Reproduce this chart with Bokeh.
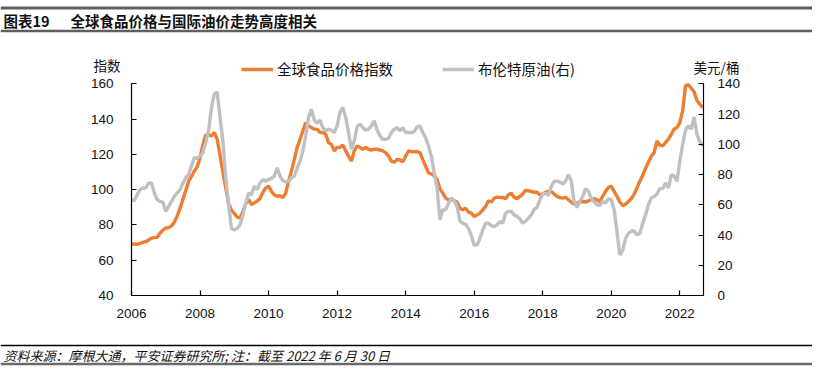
import pandas as pd
from bokeh.plotting import figure
from bokeh.models import Range1d, LinearAxis, FixedTicker, Legend, LegendItem
from bokeh.core.properties import value
from bokeh.embed import file_html
from bokeh.resources import INLINE

# ---------------- data (monthly) ----------------
months = pd.date_range("2006-01-01", periods=201, freq="MS")

food_index = [
    69.1, 69.2, 69.0, 69.5, 70.2, 70.5, 71.5, 72.5, 72.8, 73.0, 75.5, 77.0,      # 2006
    78.3, 78.5, 79.5, 81.5, 85.0, 89.5, 94.5, 99.5, 104.8, 107.5, 110.5, 113.0,  # 2007
    118.0, 125.5, 131.0, 131.0, 130.5, 132.5, 128.5, 119.5, 110.0, 101.0, 92.0, 88.5,  # 2008
    86.5, 84.5, 84.0, 87.5, 92.0, 94.5, 91.5, 92.5, 93.5, 95.0, 98.5, 101.0,     # 2009
    102.0, 99.0, 97.1, 96.2, 96.6, 95.6, 98.0, 104.8, 110.5, 117.0, 124.0, 128.6,  # 2010
    133.3, 138.0, 136.2, 135.2, 134.3, 134.3, 132.4, 132.4, 131.4, 126.7, 125.7, 122.0,  # 2011
    124.0, 124.0, 125.3, 122.0, 119.0, 116.2, 122.0, 124.8, 124.0, 122.9, 124.0, 122.9,  # 2012
    122.5, 122.9, 122.9, 122.5, 122.0, 121.0, 119.0, 116.2, 115.6, 117.1, 116.8, 115.8,  # 2013
    119.0, 122.0, 121.5, 121.5, 121.5, 121.0, 117.0, 113.3, 109.5, 109.0, 108.0, 105.7,  # 2014
    100.6, 98.0, 95.2, 94.3, 94.3, 93.7, 93.0, 89.5, 88.6, 89.5, 87.2, 86.7,     # 2015
    84.8, 85.7, 86.7, 88.6, 90.5, 93.7, 93.0, 95.2, 95.8, 95.6, 95.6, 94.9,      # 2016
    97.1, 98.0, 95.6, 94.9, 96.2, 97.5, 99.6, 99.4, 99.0, 98.5, 98.5, 97.1,      # 2017
    97.7, 98.5, 99.0, 99.0, 97.5, 96.2, 95.5, 95.2, 95.6, 94.3, 93.0, 91.8,      # 2018
    92.4, 93.0, 93.3, 93.0, 93.7, 94.3, 94.9, 94.3, 93.3, 96.2, 99.0, 101.3,     # 2019
    101.9, 99.0, 96.2, 93.0, 91.0, 91.8, 93.3, 94.9, 97.5, 101.0, 104.8, 108.2,  # 2020
    112.0, 115.6, 119.0, 121.0, 127.6, 125.3, 124.8, 126.7, 128.6, 131.4, 134.3, 135.2,  # 2021
    138.0, 144.8, 159.0, 159.5, 157.5, 155.5, 150.5, 148.5, 146.5,               # 2022
]

brent = [
    63.3, 62.7, 66.7, 70.0, 71.1, 71.1, 74.4, 74.4, 67.8, 63.3, 62.2, 61.8,      # 2006
    55.6, 58.9, 62.2, 65.6, 67.8, 70.0, 74.4, 77.8, 80.0, 85.6, 91.1, 90.7,      # 2007
    92.2, 94.4, 101.1, 108.9, 124.4, 133.3, 134.4, 117.8, 102.2, 77.8, 60.0, 44.4,  # 2008
    43.3, 44.4, 46.7, 53.3, 61.1, 67.8, 66.7, 72.2, 70.0, 74.4, 76.7, 75.6,      # 2009
    76.7, 77.5, 78.9, 84.4, 78.9, 76.0, 75.1, 75.6, 77.8, 78.9, 84.0, 88.9,      # 2010
    95.6, 105.6, 117.8, 123.3, 116.0, 113.8, 116.0, 111.1, 108.9, 110.0, 109.3, 107.8,  # 2011
    112.2, 121.1, 124.4, 117.8, 107.8, 96.7, 102.2, 111.6, 113.3, 111.1, 109.3, 110.0,  # 2012
    112.2, 115.6, 109.3, 105.6, 103.3, 103.3, 104.0, 107.8, 110.0, 111.1, 108.9, 111.1,  # 2013
    107.8, 107.8, 107.8, 108.4, 111.6, 112.2, 107.8, 104.4, 98.9, 92.2, 81.1, 71.1,  # 2014
    50.0, 56.7, 56.7, 61.1, 64.4, 62.7, 58.9, 49.3, 47.8, 47.1, 44.4, 39.6,      # 2015
    33.3, 33.3, 37.8, 43.3, 47.8, 47.8, 46.2, 45.6, 46.7, 48.9, 47.8, 54.4,      # 2016
    55.6, 55.6, 53.3, 52.2, 50.7, 47.8, 49.3, 51.1, 53.3, 57.1, 58.2, 63.3,      # 2017
    67.1, 67.8, 66.2, 72.2, 75.6, 75.6, 75.0, 73.8, 75.6, 80.0, 75.6, 62.2,      # 2018
    58.2, 62.2, 65.6, 70.7, 68.9, 64.0, 62.2, 60.0, 59.6, 62.2, 61.1, 64.0,      # 2019
    63.3, 56.7, 42.2, 26.7, 30.0, 37.8, 41.1, 42.7, 42.7, 40.0, 41.1, 47.8,      # 2020
    53.3, 60.0, 64.4, 65.6, 67.1, 70.7, 70.7, 74.4, 71.1, 80.0, 78.9, 75.6,      # 2021
    88.9, 100.0, 109.3, 112.2, 110.0, 118.0, 106.7, 101.6, 98.9,                 # 2022
]

x_ticks = [2006, 2008, 2010, 2012, 2014, 2016, 2018, 2020, 2022]
left_ticks = [40, 60, 80, 100, 120, 140, 160]
right_ticks = [0, 20, 40, 60, 80, 100, 120, 140]

series_names = ["全球食品价格指数", "布伦特原油(右)"]
title_num = "图表19"
title_text = "全球食品价格与国际油价走势高度相关"
left_unit = "指数"
right_unit = "美元/桶"
source_note = "资料来源：摩根大通，平安证券研究所; 注：截至 2022 年 6 月 30 日"

x = [d.year + (d.month - 1) / 12 for d in months]

CJK = "Noto Sans CJK SC"
LAT = "Liberation Sans"
ORANGE = "#ED7D31"
GRAY = "#C0C0C0"
TXT = "#111111"
W = 812


def strip(height):
    fig = figure(width=W, height=height, x_range=Range1d(0, W), y_range=Range1d(height, 0),
                 output_backend="svg", toolbar_location=None, min_border=0,
                 x_axis_location=None, y_axis_location=None)
    fig.grid.visible = False
    fig.outline_line_color = None
    return fig


# ---------------- header strip: title and axis units ----------------
t = strip(76)
t.segment(x0=[0, 0], y0=[7.5, 30.5], x1=[W, W], y1=[7.5, 30.5],
          line_color="#5f5f5f", line_width=[3, 2.5])
t.text(x=[3], y=[19.5], text=[title_num], text_font=value(CJK), text_font_style="bold",
       text_font_size="14.5px", text_baseline="middle", text_color=TXT)
t.text(x=[70], y=[19.5], text=[title_text], text_font=value(CJK), text_font_style="bold",
       text_font_size="14.5px", text_baseline="middle", text_color=TXT)
t.text(x=[106.5], y=[64], text=[left_unit], text_font=value(CJK), text_font_size="13.5px",
       text_align="center", text_baseline="middle", text_color=TXT)
t.text(x=[716], y=[66], text=[right_unit], text_font=value(CJK), text_font_size="13.5px",
       text_align="center", text_baseline="middle", text_color=TXT)

# ---------------- main chart (overlaps the lower part of the header, transparent) ----------------
Y_TOP = 178.9                       # room above 160 for the legend
p = figure(width=W, height=298, x_range=Range1d(2006, 2022.691), y_range=Range1d(40, Y_TOP),
           output_backend="svg", toolbar_location=None,
           min_border_left=131, min_border_right=109, min_border_top=12, min_border_bottom=41,
           styles={"margin-top": "-38px"})
p.extra_y_ranges = {"oil": Range1d(0, (Y_TOP - 40) * 7 / 6)}
p.grid.visible = False
p.outline_line_color = None
p.background_fill_alpha = 0
p.border_fill_alpha = 0

r_food = p.line(x, food_index, line_color=ORANGE, line_width=3.4)
r_oil = p.line(x, brent, y_range_name="oil", line_color=GRAY, line_width=3.4)

right_axis = LinearAxis(y_range_name="oil")
p.add_layout(right_axis, "right")

p.xaxis.ticker = FixedTicker(ticks=x_ticks)
p.xaxis.major_label_overrides = {v: str(v) for v in x_ticks}
p.yaxis[0].ticker = FixedTicker(ticks=left_ticks)
p.yaxis[0].bounds = (left_ticks[0], left_ticks[-1])
right_axis.ticker = FixedTicker(ticks=right_ticks)
right_axis.bounds = (right_ticks[0], right_ticks[-1])

for ax in [p.xaxis[0], p.yaxis[0], right_axis]:
    ax.axis_line_color = "#000000"
    ax.axis_line_width = 1.2
    ax.major_tick_line_color = "#000000"
    ax.major_tick_line_width = 1.2
    ax.major_tick_in = 5
    ax.major_tick_out = 0
    ax.minor_tick_line_color = None
    ax.major_label_text_font = LAT
    ax.major_label_text_font_size = "13.5px"
    ax.major_label_text_color = TXT
p.xaxis[0].major_label_standoff = 13
p.yaxis[0].major_label_standoff = 18
right_axis.major_label_standoff = 14

legend = Legend(items=[LegendItem(label=series_names[0], renderers=[r_food]),
                       LegendItem(label=series_names[1], renderers=[r_oil])],
                location=(110, 216), orientation="horizontal",
                glyph_width=32, glyph_height=14, label_standoff=4, spacing=49,
                padding=0, margin=0, border_line_color=None, background_fill_alpha=0,
                label_text_font=CJK, label_text_font_size="14.5px", label_text_color=TXT,
                label_height=16)
p.add_layout(legend)

# ---------------- footer strip ----------------
f = strip(36)
f.segment(x0=[0], y0=[9], x1=[W], y1=[9], line_color="#000000", line_width=1.3)
f.segment(x0=[0], y0=[27.5], x1=[W], y1=[27.5], line_color="#6a6a6a", line_width=2.5)
f.text(x=[3], y=[19], text=[source_note], text_font=value(CJK), text_font_style="italic",
       text_font_size="13px", text_baseline="middle", text_color=TXT)

open("out.html", "w").write(file_html([t, p, f], INLINE))
